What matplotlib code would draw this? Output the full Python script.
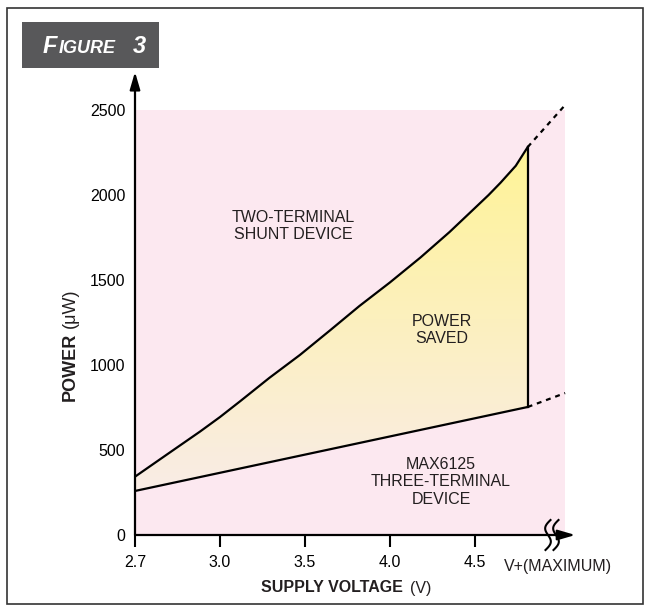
import numpy as np
import matplotlib
matplotlib.use('Agg')
import matplotlib.pyplot as plt
from matplotlib.patches import Rectangle, Polygon
from matplotlib.lines import Line2D

plt.rcParams['font.family'] = ['Liberation Sans', 'DejaVu Sans']

# ---------------- data ----------------
voltage_ticks = [2.7, 3.0, 3.5, 4.0, 4.5]
voltage_tick_labels = ['2.7', '3.0', '3.5', '4.0', '4.5']
power_ticks = [0, 500, 1000, 1500, 2000, 2500]

shunt_v = [2.7, 2.82, 2.93, 3.0, 3.12, 3.29, 3.47, 3.65, 3.82, 4.0, 4.18,
           4.35, 4.5, 4.58, 4.65, 4.74, 4.81]
shunt_p = [343, 482, 609, 694, 788, 924, 1059, 1206, 1347, 1486, 1633,
           1782, 1924, 2000, 2072, 2172, 2282]

max6125_v = [2.7, 4.81]
max6125_p = [259, 753]

ext_v = [4.81, 5.03]
shunt_ext_p = [2282, 2529]
max6125_ext_p = [753, 835]

region_v = [2.7, 5.03]
region_p = [0, 2500]

# ---------------- figure ----------------
W, H = 650, 611
fig = plt.figure(figsize=(W / 100, H / 100), dpi=100)


def fx(px):
    return np.asarray(px) / W


def fy(py):
    return 1 - np.asarray(py) / H


# outer frame
fig.add_artist(Rectangle((fx(7), fy(604)), fx(643) - fx(7), fy(8) - fy(604),
                         transform=fig.transFigure, fill=False,
                         edgecolor='#333333', lw=1.2))

# FIGURE 3 badge
fig.add_artist(Rectangle((fx(22), fy(68)), fx(159) - fx(22), fy(22) - fy(68),
                         transform=fig.transFigure, facecolor='#58585a',
                         edgecolor='none'))
fig.text(fx(43), fy(53), 'F', color='white', fontsize=17, fontweight='bold',
         fontstyle='italic', ha='left', va='baseline')
fig.text(fx(59), fy(53), 'IGURE', color='white', fontsize=13, fontweight='bold',
         fontstyle='italic', ha='left', va='baseline')
fig.text(fx(133), fy(53), '3', color='white', fontsize=17, fontweight='bold',
         fontstyle='italic', ha='left', va='baseline')

# axes
ax_left, ax_right, ax_bottom, ax_top = 135, 581.25, 535, 70.9
ax = fig.add_axes([fx(ax_left), fy(ax_bottom), (ax_right - ax_left) / W,
                   (ax_bottom - ax_top) / H])
ax.patch.set_alpha(0)


def fwd(v):
    v = np.asarray(v, float)
    return np.where(v < 3.0, (v - 2.7) / 0.3, 1 + (v - 3.0) / 0.5)


def inv(u):
    u = np.asarray(u, float)
    return np.where(u < 1, 2.7 + 0.3 * u, 3.0 + 0.5 * (u - 1))


ax.set_xscale('function', functions=(fwd, inv))
ax.set_xlim(2.7, 5.125)
ax.set_ylim(0, 2730)

for s in ax.spines.values():
    s.set_visible(False)

# pink background region
ax.add_patch(Rectangle((region_v[0], region_p[0]), region_v[1] - region_v[0],
                       region_p[1] - region_p[0], facecolor='#fce8f0',
                       edgecolor='none', zorder=0))

# gradient fill for power saved
poly_v = list(shunt_v) + [max6125_v[1], max6125_v[0]]
poly_p = list(shunt_p) + [max6125_p[1], max6125_p[0]]
poly = Polygon(list(zip(poly_v, poly_p)), closed=True, transform=ax.transData,
               facecolor='none', edgecolor='none')
ax.add_patch(poly)

ylim_top = 2730
rows = 400
yy = np.linspace(0, ylim_top, rows)
t = np.clip((yy - 260) / (2280 - 260), 0, 1)
bottom_c = np.array([249, 236, 230]) / 255
top_c = np.array([255, 244, 150]) / 255
grad = (bottom_c[None, :] + t[:, None] * (top_c - bottom_c)[None, :])[:, None, :]
im = ax.imshow(grad, extent=(0, 1, 0, 1), transform=ax.transAxes, origin='lower',
               aspect='auto', interpolation='bilinear', zorder=1)
im.set_clip_path(poly)

# curves
ax.plot(shunt_v, shunt_p, color='black', lw=1.6, zorder=3,
        solid_joinstyle='round')
ax.plot(max6125_v, max6125_p, color='black', lw=1.6, zorder=3)
ax.plot([shunt_v[-1], shunt_v[-1]], [max6125_p[-1], shunt_p[-1]], color='black',
        lw=1.6, zorder=3)
ax.plot(ext_v, shunt_ext_p, color='black', lw=1.6, ls=(0, (2.2, 2.2)), zorder=3)
ax.plot(ext_v, max6125_ext_p, color='black', lw=1.6, ls=(0, (2.2, 2.2)), zorder=3)

# axis arrows
arrow = dict(arrowstyle='-|>,head_length=0.75,head_width=0.22', lw=1.6,
             color='black', shrinkA=0, shrinkB=0, mutation_scale=14)
ax.annotate('', xy=(2.7, 2724), xytext=(2.7, 0), arrowprops=arrow,
            annotation_clip=False, zorder=4)
ax.annotate('', xy=(5.09, 0), xytext=(2.7, 0), arrowprops=arrow,
            annotation_clip=False, zorder=4)

# ticks
ax.set_xticks(voltage_ticks)
ax.set_xticklabels(voltage_tick_labels)
ax.set_yticks(power_ticks)
ax.tick_params(axis='x', direction='out', length=8.5, width=1.5, pad=6,
               labelsize=11.5, colors='black')
ax.tick_params(axis='y', length=0, pad=7, labelsize=11.5, colors='black')
ax.minorticks_off()

# break symbol
tt = np.linspace(-1, 1, 60)
for xc in (548, 556):
    xs = xc + 2.5 * tt - 4 * np.sin(np.pi * tt)
    ys = 535 - 15 * tt
    fig.add_artist(Line2D(fx(xs), fy(ys), transform=fig.transFigure,
                          color='black', lw=1.5))

# text labels
txt = dict(fontsize=11.5, color='#231f20', ha='center', va='center',
           linespacing=1.2)
fig.text(fx(293), fy(226), 'TWO-TERMINAL\nSHUNT DEVICE', **txt)
fig.text(fx(442), fy(330), 'POWER\nSAVED', **txt)
fig.text(fx(441), fy(482), 'MAX6125\nTHREE-TERMINAL\nDEVICE', **txt)
fig.text(fx(558), fy(567), 'V+(MAXIMUM)', **txt)

fig.text(fx(331.5), fy(588), 'SUPPLY VOLTAGE', fontsize=11.5, fontweight='bold',
         ha='center', va='center', color='#231f20')
fig.text(fx(421), fy(588), '(V)', fontsize=11.5, ha='center', va='center',
         color='#231f20')
fig.text(fx(70), fy(367), 'POWER', fontsize=13, fontweight='bold', rotation=90,
         ha='center', va='center', color='#231f20')
fig.text(fx(70), fy(308), '(\u03bcW)', fontsize=13, rotation=90,
         ha='center', va='center', color='#231f20')

fig.savefig('out.png', dpi=100)
